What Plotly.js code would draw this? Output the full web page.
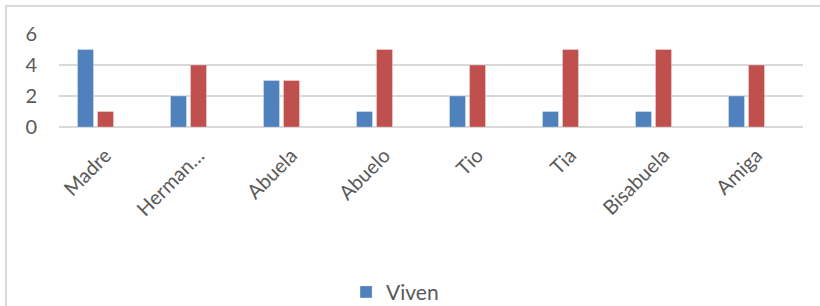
<!DOCTYPE html>
<html>
<head>
<meta charset="utf-8">
<script src="https://cdn.plot.ly/plotly-3.0.1.min.js"></script>
<style>
  html, body { margin: 0; padding: 0; overflow: hidden; background: #ffffff; }
  #wrap { position: relative; width: 820px; height: 306px; }
  #chart { position: absolute; left: 0; top: 0; width: 820px; height: 306px; }
  #frame { position: absolute; left: 5px; top: 5px; width: 830px; height: 320px;
           border-left: 2px solid #d9d9d9; border-top: 2px solid #d9d9d9; pointer-events: none; }
</style>
</head>
<body>
<div id="wrap">
  <div id="chart"></div>
  <div id="frame"></div>
</div>
<script>
const categories = ["Madre", "Herman…", "Abuela", "Abuelo", "Tio", "Tia", "Bisabuela", "Amiga"];
const viven = [5, 2, 3, 1, 2, 1, 1, 2];
const noViven = [1, 4, 3, 5, 4, 5, 5, 4];
const serie3 = [null, null, null, null, null, null, null, null];
const yTicks = [0, 2, 4, 6];

const font = "Lato, 'Open Sans', sans-serif";
const txt = "#595959";

const traces = [
  { type: "bar", name: "Viven", x: categories, y: viven,
    marker: { color: "#4f81bd", line: { color: "rgba(255,255,255,0.5)", width: 0.6 } } },
  { type: "bar", name: "No viven", x: categories, y: noViven, showlegend: false,
    marker: { color: "#c0504d", line: { color: "rgba(255,255,255,0.5)", width: 0.6 } } },
  { type: "bar", name: "", x: categories, y: serie3, showlegend: false,
    marker: { color: "#9bbb59" } }
];

const layout = {
  width: 820, height: 306,
  margin: { l: 59, r: 17, t: 34, b: 179, autoexpand: false },
  paper_bgcolor: "#ffffff", plot_bgcolor: "#ffffff",
  barmode: "group", bargap: 0.355, bargroupgap: 0.2,
  font: { family: font, color: txt },
  xaxis: {
    type: "category", tickangle: -45, automargin: false,
    tickfont: { family: font, size: 20, color: txt },
    showgrid: false, showline: false, zeroline: false,
    ticks: "", ticklabelstandoff: 12
  },
  yaxis: {
    range: [0, 6], tickvals: yTicks, ticktext: yTicks.map(String), automargin: false,
    tickfont: { family: font, size: 20, color: txt },
    showgrid: true, gridcolor: "#d9d9d9", gridwidth: 1.5,
    zeroline: true, zerolinecolor: "#d9d9d9", zerolinewidth: 1.5,
    showline: false, ticks: "", ticklabelstandoff: 21, fixedrange: true
  },
  showlegend: true,
  legend: {
    orientation: "h", xref: "container", yref: "container",
    x: 0.422, xanchor: "left", y: 0.045, yanchor: "middle",
    font: { family: font, size: 21, color: txt }, bgcolor: "rgba(0,0,0,0)"
  }
};

Plotly.newPlot("chart", traces, layout, { displayModeBar: false, staticPlot: true });
</script>
</body>
</html>
